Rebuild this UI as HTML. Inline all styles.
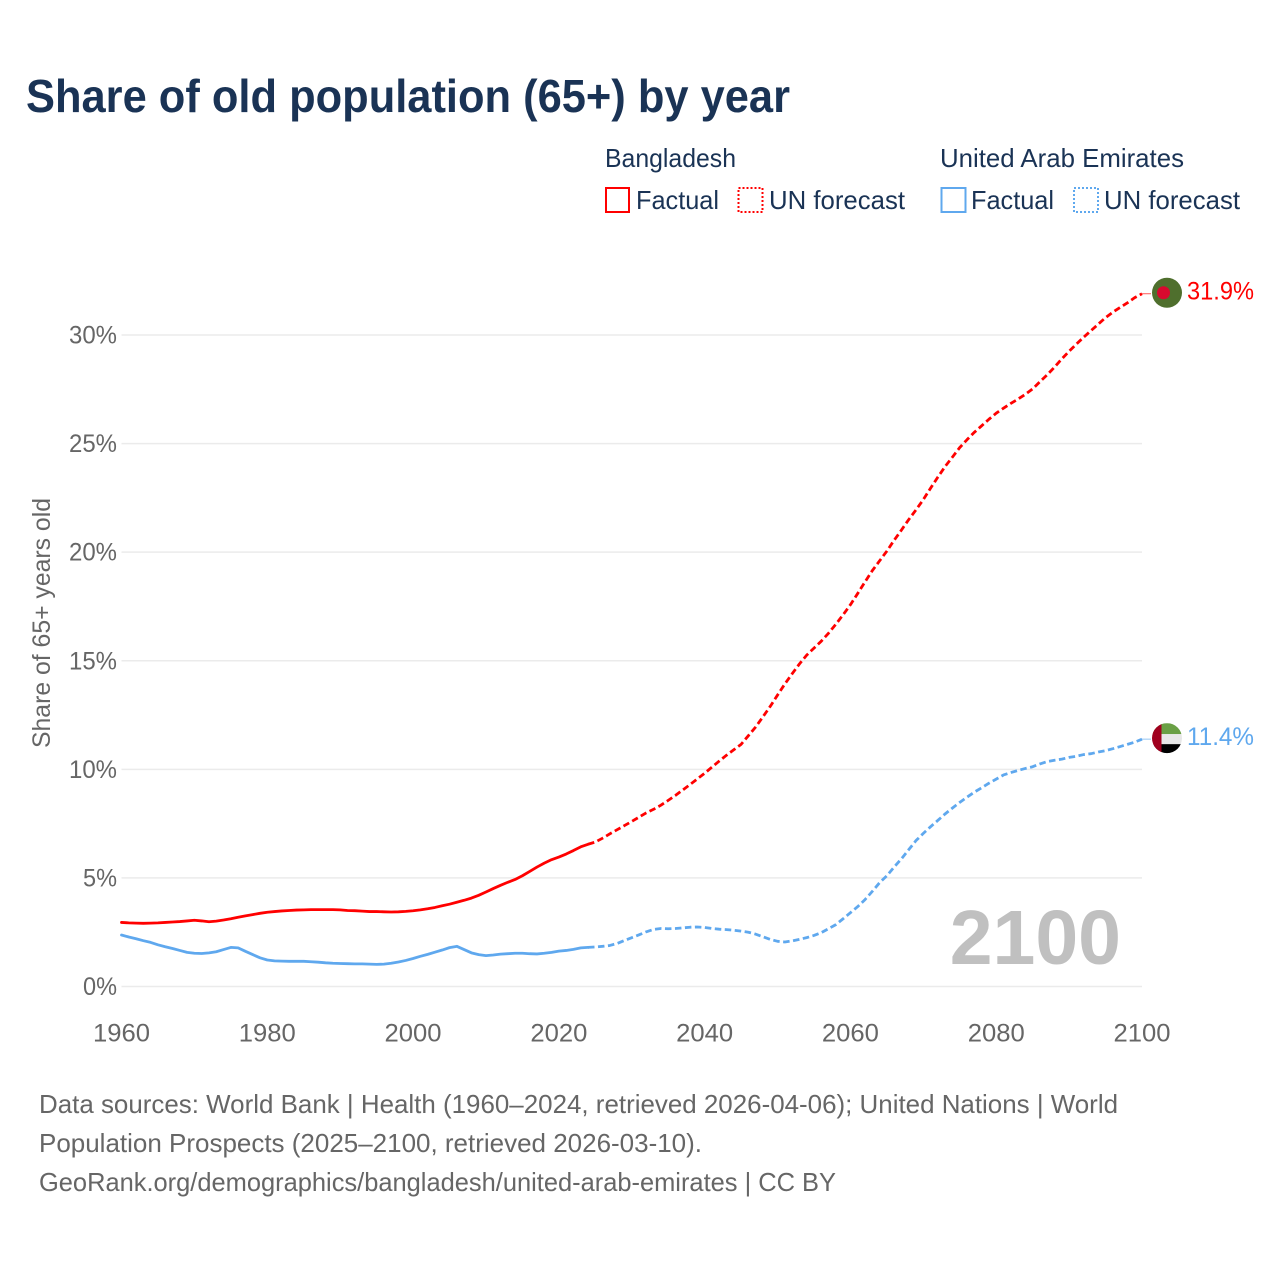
<!DOCTYPE html>
<html lang="en">
<head>
<meta charset="utf-8">
<title>Share of old population (65+) by year</title>
<style>
html,body{margin:0;padding:0;background:#fff;}
svg{display:block;font-family:"Liberation Sans",sans-serif;}
</style>
</head>
<body>
<svg id="chart" xmlns="http://www.w3.org/2000/svg" width="1280" height="1280" viewBox="0 0 1280 1280">
  <rect x="0" y="0" width="1280" height="1280" fill="#fff"/>
  <text x="26" y="112" font-size="46" font-weight="700" fill="#1a3355" textLength="764" lengthAdjust="spacingAndGlyphs">Share of old population (65+) by year</text>

  <g font-size="26" fill="#1a3355">
    <text x="605" y="167" textLength="131" lengthAdjust="spacingAndGlyphs">Bangladesh</text>
    <rect x="606" y="188" width="23" height="24" fill="none" stroke="#ff0000" stroke-width="2"/>
    <text x="636" y="209" textLength="83" lengthAdjust="spacingAndGlyphs">Factual</text>
    <rect x="738.5" y="188" width="24" height="24" fill="none" stroke="#ff0000" stroke-width="2" stroke-dasharray="2 2"/>
    <text x="769" y="209" textLength="136" lengthAdjust="spacingAndGlyphs">UN forecast</text>
    <text x="940" y="167" textLength="244" lengthAdjust="spacingAndGlyphs">United Arab Emirates</text>
    <rect x="941.5" y="188" width="24" height="24" fill="none" stroke="#5fa8ee" stroke-width="2"/>
    <text x="971" y="209" textLength="83" lengthAdjust="spacingAndGlyphs">Factual</text>
    <rect x="1074" y="188" width="24" height="24" fill="none" stroke="#5fa8ee" stroke-width="2" stroke-dasharray="2 2"/>
    <text x="1104" y="209" textLength="136" lengthAdjust="spacingAndGlyphs">UN forecast</text>
  </g>

  <text transform="translate(50,623) rotate(-90)" text-anchor="middle" font-size="25" fill="#666" textLength="250" lengthAdjust="spacingAndGlyphs">Share of 65+ years old</text>
  <g id="grid"></g>
  <g id="y-ticks"></g>
  <g id="x-ticks"></g>

  <text x="1121" y="964" text-anchor="end" font-size="77" font-weight="700" fill="#c0c0c0">2100</text>

  <g id="series"></g>
  <g id="endpoints"></g>

  <g font-size="26" fill="#666">
    <text x="39" y="1113" textLength="1079" lengthAdjust="spacingAndGlyphs">Data sources: World Bank | Health (1960–2024, retrieved 2026-04-06); United Nations | World</text>
    <text x="39" y="1152" textLength="663" lengthAdjust="spacingAndGlyphs">Population Prospects (2025–2100, retrieved 2026-03-10).</text>
    <text x="39" y="1191" textLength="797" lengthAdjust="spacingAndGlyphs">GeoRank.org/demographics/bangladesh/united-arab-emirates | CC BY</text>
  </g>
</svg>
<script>
const factualStartYear = 1960;
const forecastStartYear = 2025;
const xTickYears = [1960, 1980, 2000, 2020, 2040, 2060, 2080, 2100];
const yTickValues = [0, 5, 10, 15, 20, 25, 30];
const bangladeshFactual = [
  2.95,2.93,2.92,2.91,2.92,2.93,2.95,2.97,2.99,3.02,
  3.05,3.02,2.98,3.01,3.06,3.12,3.19,3.25,3.31,3.37,
  3.42,3.45,3.48,3.50,3.52,3.53,3.54,3.54,3.54,3.54,
  3.53,3.50,3.49,3.47,3.45,3.45,3.44,3.43,3.44,3.46,
  3.49,3.53,3.58,3.64,3.72,3.79,3.88,3.97,4.07,4.20,
  4.35,4.51,4.66,4.80,4.93,5.10,5.30,5.50,5.68,5.84,
  5.96,6.10,6.26,6.43,6.55
];
const bangladeshForecast = [
  6.65,6.83,7.03,7.22,7.41,7.60,7.80,8.00,8.16,8.35,
  8.57,8.80,9.05,9.30,9.56,9.82,10.10,10.38,10.65,10.90,
  11.15,11.55,11.95,12.42,12.90,13.42,13.93,14.40,14.85,15.26,
  15.58,15.90,16.27,16.68,17.12,17.58,18.10,18.63,19.15,19.60,
  20.05,20.55,21.02,21.50,21.95,22.42,22.95,23.46,23.95,24.38,
  24.82,25.18,25.52,25.82,26.12,26.40,26.63,26.85,27.05,27.27,
  27.52,27.85,28.17,28.52,28.90,29.25,29.58,29.90,30.20,30.50,
  30.80,31.05,31.27,31.48,31.72,31.90
];
const uaeFactual = [
  2.37,2.28,2.20,2.11,2.03,1.92,1.83,1.75,1.66,1.57,
  1.53,1.52,1.55,1.60,1.70,1.80,1.78,1.62,1.47,1.32,
  1.22,1.18,1.17,1.16,1.16,1.16,1.14,1.12,1.09,1.07,
  1.06,1.05,1.04,1.04,1.03,1.02,1.03,1.07,1.13,1.20,
  1.29,1.39,1.48,1.58,1.68,1.79,1.85,1.70,1.55,1.47,
  1.42,1.45,1.49,1.51,1.53,1.53,1.51,1.50,1.53,1.57,
  1.63,1.66,1.71,1.78,1.80
];
const uaeForecast = [
  1.82,1.85,1.89,1.98,2.12,2.25,2.38,2.52,2.63,2.67,
  2.66,2.67,2.70,2.73,2.74,2.72,2.67,2.64,2.62,2.59,
  2.55,2.50,2.41,2.29,2.17,2.08,2.05,2.10,2.17,2.25,
  2.35,2.48,2.66,2.85,3.12,3.40,3.68,4.00,4.38,4.78,
  5.10,5.50,5.88,6.30,6.72,7.05,7.36,7.65,7.95,8.22,
  8.48,8.72,8.95,9.15,9.36,9.55,9.74,9.85,9.95,10.04,
  10.12,10.25,10.36,10.42,10.47,10.55,10.60,10.68,10.72,10.80,
  10.86,10.95,11.05,11.15,11.25,11.39
];

const NS = 'http://www.w3.org/2000/svg';
const RED = '#ff0000';
const BLUE = '#5fa8ee';
const xScale = year => 121.5 + (year - 1960) * (1142 - 121.5) / 140;
const yScale = value => 986.5 - value * (986.5 - 335) / 30;

function make(tag, attrs, parent) {
  const el = document.createElementNS(NS, tag);
  for (const k in attrs) el.setAttribute(k, attrs[k]);
  parent.appendChild(el);
  return el;
}

function pointsFrom(startYear, values) {
  return values.map((v, i) => xScale(startYear + i).toFixed(2) + ',' + yScale(v).toFixed(2));
}

const grid = document.getElementById('grid');
const yTicks = document.getElementById('y-ticks');
const xTicks = document.getElementById('x-ticks');
const series = document.getElementById('series');
const endpoints = document.getElementById('endpoints');

yTickValues.forEach(v => {
  const line = make('line', {x1: xScale(1960), x2: xScale(2100), y1: yScale(v), y2: yScale(v), stroke: '#ebebeb', 'stroke-width': 1.5}, grid);
  
  
  const label = make('text', {x: 117, y: yScale(v) + 8.5, 'text-anchor': 'end', 'font-size': 25, fill: '#666', textLength: String(v).length * 14 + 20, lengthAdjust: 'spacingAndGlyphs'}, yTicks);
  label.textContent = v + '%';
  
  
});

xTickYears.forEach(year => {
  const label = make('text', {x: xScale(year), y: 1041.5, 'text-anchor': 'middle', 'font-size': 25, fill: '#666', textLength: 57, lengthAdjust: 'spacingAndGlyphs'}, xTicks);
  label.textContent = year;
  
  
});

function drawSeries(key, color, factual, forecast) {
  const solid = make('polyline', {points: pointsFrom(factualStartYear, factual).join(' '), fill: 'none', stroke: color, 'stroke-width': 2.8, 'stroke-linejoin': 'round', 'stroke-linecap': 'round'}, series);
  
  
  const lastFactual = xScale(factualStartYear + factual.length - 1).toFixed(2) + ',' + yScale(factual[factual.length - 1]).toFixed(2);
  const dashedPoints = [lastFactual].concat(pointsFrom(forecastStartYear, forecast));
  const dashed = make('polyline', {points: dashedPoints.join(' '), fill: 'none', stroke: color, 'stroke-width': 2.8, 'stroke-dasharray': '6.5 3.5', 'stroke-linejoin': 'round'}, series);
  
  
  const lastValue = forecast[forecast.length - 1];
  const yEnd = yScale(lastValue);
  const leader = make('line', {x1: xScale(2100), x2: 1151, y1: yEnd, y2: yEnd, stroke: color, 'stroke-width': 1, opacity: 0.65}, endpoints);
  
  
  const label = make('text', {x: 1254, y: yEnd + 6, 'text-anchor': 'end', 'font-size': 25, fill: color, textLength: 67, lengthAdjust: 'spacingAndGlyphs'}, endpoints);
  label.textContent = lastValue.toFixed(1) + '%';
  
  
  return yEnd;
}

const yBd = drawSeries('bangladesh', RED, bangladeshFactual, bangladeshForecast);
const yUae = drawSeries('uae', BLUE, uaeFactual, uaeForecast);

const cx = 1167;
const bdFlag = make('g', {}, endpoints);


make('circle', {cx: cx, cy: yBd - 1, r: 15, fill: '#4f6f2d'}, bdFlag);
make('circle', {cx: cx - 3.5, cy: yBd - 1, r: 6.5, fill: '#d8092e'}, bdFlag);

const defs = make('defs', {}, endpoints);
const clip = make('clipPath', {id: 'uae-clip'}, defs);
make('circle', {cx: cx, cy: yUae - 1, r: 15}, clip);
const uaeFlag = make('g', {'clip-path': 'url(#uae-clip)'}, endpoints);


const flagTop = yUae - 16;
make('rect', {x: cx - 15, y: flagTop, width: 30, height: 11, fill: '#6aa045'}, uaeFlag);
make('rect', {x: cx - 15, y: flagTop + 11, width: 30, height: 10, fill: '#e8e8e8'}, uaeFlag);
make('rect', {x: cx - 15, y: flagTop + 21, width: 30, height: 11, fill: '#000000'}, uaeFlag);
make('rect', {x: cx - 15, y: flagTop, width: 9.5, height: 32, fill: '#a0001e'}, uaeFlag);
</script>
</body>
</html>
